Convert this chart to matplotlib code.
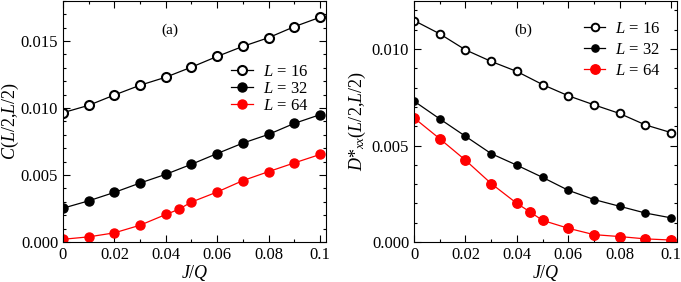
import matplotlib
matplotlib.use("Agg")
import matplotlib.pyplot as plt
from matplotlib.ticker import MultipleLocator, FormatStrFormatter

plt.rcParams['font.family'] = ['Liberation Serif', 'DejaVu Serif']
plt.rcParams['mathtext.fontset'] = 'custom'
plt.rcParams['mathtext.rm'] = 'Liberation Serif'
plt.rcParams['mathtext.it'] = 'Liberation Serif:italic'

# J/Q values
jq = [0, 0.01, 0.02, 0.03, 0.04, 0.05, 0.06, 0.07, 0.08, 0.09, 0.1]
jq64 = [0, 0.01, 0.02, 0.03, 0.04, 0.045, 0.05, 0.06, 0.07, 0.08, 0.09, 0.1]

# panel (a): C(L/2,L/2)
c16 = [0.00965, 0.0102, 0.01097, 0.0117, 0.0123, 0.01305, 0.01385, 0.0146, 0.01525, 0.01607, 0.01677]
c32 = [0.00252, 0.00307, 0.0037, 0.0044, 0.00505, 0.0058, 0.0066, 0.00738, 0.00803, 0.00885, 0.0095]
c64 = [0.0002, 0.00038, 0.00068, 0.00125, 0.00205, 0.00243, 0.00298, 0.00373, 0.00458, 0.00525, 0.0059, 0.00653]

# panel (b): D*_xx(L/2,L/2)
d16 = [0.01148, 0.01079, 0.00996, 0.00936, 0.00884, 0.00816, 0.00758, 0.00711, 0.00666, 0.00607, 0.00567]
d32 = [0.0073, 0.00638, 0.00548, 0.00458, 0.00398, 0.00335, 0.00268, 0.0022, 0.00185, 0.0015, 0.00125]
d64 = [0.00643, 0.00535, 0.00424, 0.00303, 0.002, 0.00157, 0.00112, 0.00071, 0.00038, 0.00028, 0.00016, 0.0001]

fig = plt.figure(figsize=(6.81, 2.82), dpi=100)
ax1 = fig.add_axes([0.0925, 0.142, 0.386, 0.855])
ax2 = fig.add_axes([0.608, 0.142, 0.386, 0.855])


def style(ax, ymax, ylabel, lx):
    ax.set_xlim(0, 0.1023)
    ax.set_ylim(0, ymax)
    ax.xaxis.set_major_locator(MultipleLocator(0.02))
    ax.xaxis.set_minor_locator(MultipleLocator(0.01))
    ax.yaxis.set_major_locator(MultipleLocator(0.005))
    ax.yaxis.set_minor_locator(MultipleLocator(0.001))
    ax.yaxis.set_major_formatter(FormatStrFormatter('%.3f'))
    ax.xaxis.set_major_formatter(plt.FuncFormatter(lambda v, p: '0' if v == 0 else f'{v:g}'))
    ax.tick_params(which='both', direction='in', top=True, right=True, labelsize=12)
    ax.tick_params(which='major', length=5, width=0.8)
    ax.tick_params(which='minor', length=2.5, width=0.8)
    ax.set_xlabel(r'$J/Q$', fontsize=13, labelpad=0)
    ax.set_ylabel(ylabel, fontsize=13)
    ax.yaxis.set_label_coords(lx, 0.5)


ax1.plot(jq, c16, '-o', color='black', mfc='white', mec='black', mew=1.5, ms=6.5, lw=0.9, label=r'$L$ = 16')
ax1.plot(jq, c32, '-o', color='black', ms=6.5, lw=0.9, label=r'$L$ = 32')
ax1.plot(jq64, c64, '-o', color='red', ms=6.5, lw=0.9, label=r'$L$ = 64')
style(ax1, 0.018, r'$C(L/2{,}L/2)$', -0.158)
ax1.text(0.0416, 0.0158, '(a)', fontsize=11, ha='center', va='center')
ax1.legend(loc='upper left', bbox_to_anchor=(0.615, 0.765), frameon=False, fontsize=12,
           handlelength=1.3, handletextpad=0.6, labelspacing=0.05, borderaxespad=0)

ax2.plot(jq, d16, '-o', color='black', mfc='white', mec='black', mew=1.4, ms=5.5, lw=0.9, label=r'$L$ = 16')
ax2.plot(jq, d32, '-o', color='black', ms=5.2, lw=0.9, label=r'$L$ = 32')
ax2.plot(jq64, d64, '-o', color='red', ms=6.8, lw=0.9, label=r'$L$ = 64')
style(ax2, 0.0125, r'$D{*}_{xx}(L/2{,}L/2)$', -0.175)
ax2.text(0.0424, 0.0110, '(b)', fontsize=11, ha='center', va='center')
ax2.legend(loc='upper left', bbox_to_anchor=(0.62, 0.945), frameon=False, fontsize=12,
           handlelength=1.3, handletextpad=0.6, labelspacing=0.3, borderaxespad=0)

fig.savefig('out.png', dpi=100)
